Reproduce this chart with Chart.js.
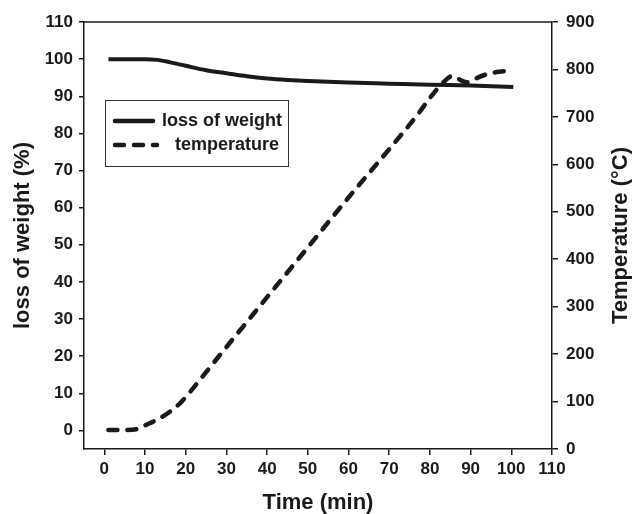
<!DOCTYPE html>
<html>
<head>
<meta charset="utf-8">
<script src="https://cdn.jsdelivr.net/npm/chart.js@4.4.1/dist/chart.umd.min.js"></script>
<style>
  html, body { margin: 0; padding: 0; background: #fff; }
  #wrap { width: 636px; height: 514px; position: relative; }
</style>
</head>
<body>
<div id="wrap"><canvas id="tgaChart"></canvas></div>
<script>
// weight curve (left axis, %)
const timeWeight = [1, 5, 10, 13, 16, 20, 25, 30, 35, 40, 45, 50, 60, 70, 80, 90, 100.5]
const lossOfWeight = [100, 100, 100, 99.8, 99.2, 98.2, 97.0, 96.2, 95.4, 94.8, 94.4, 94.1, 93.7, 93.4, 93.1, 92.9, 92.5]

// temperature curve (right axis, °C)
const timeTemp = [1, 5, 8, 10, 13, 16, 19, 22, 25, 30, 40, 50, 60, 70, 77, 80, 83, 85.5, 87, 89, 91, 94, 97, 100.5]
const temperature = [40, 40, 42, 50, 62, 78, 100, 130, 162, 215, 320, 425, 530, 632, 705, 740, 770, 786, 780, 773, 780, 790, 795, 798]

// tick labels
const timeTicks = [0, 10, 20, 30, 40, 50, 60, 70, 80, 90, 100, 110]
const weightTicks = [0, 10, 20, 30, 40, 50, 60, 70, 80, 90, 100, 110]
const tempTicks = [0, 100, 200, 300, 400, 500, 600, 700, 800, 900]

const seriesNames = ['loss of weight', 'temperature']
const axisTitles = { x: 'Time (min)', y: 'loss of weight (%)', y2: 'Temperature (°C)' }

const ink = '#1a1a1a'
const tickFont = { family: 'Liberation Sans, Arial, sans-serif', size: 17, weight: 'bold' }
const titleFont = { family: 'Liberation Sans, Arial, sans-serif', size: 22, weight: 'bold' }

const toPoints = (xs, ys) => xs.map((x, i) => ({ x: x, y: ys[i] }))
const useTicks = (values) => (s) => { s.ticks = values.map((v) => ({ value: v })) }

// top frame line, legend box and right title
const framePlugin = {
  id: 'frame',
  afterDraw(chart) {
    const { ctx, chartArea } = chart
    ctx.save()
    ctx.strokeStyle = ink
    ctx.lineWidth = 1.5
    ctx.beginPath()
    ctx.moveTo(chartArea.left, chartArea.top)
    ctx.lineTo(chartArea.right, chartArea.top)
    ctx.stroke()

    // legend
    ctx.lineWidth = 1
    ctx.strokeStyle = '#333'
    ctx.strokeRect(105.5, 100.5, 183, 66)
    const rows = [
      { y: 121, x2: 153, tx: 162, dash: [] },
      { y: 145, x2: 157, tx: 175, dash: [9, 10] },
    ]
    chart.data.datasets.forEach((ds, i) => {
      const r = rows[i]
      ctx.strokeStyle = ink
      ctx.lineWidth = 4.5
      ctx.lineCap = 'round'
      ctx.setLineDash(r.dash)
      ctx.beginPath()
      ctx.moveTo(115, r.y)
      ctx.lineTo(r.x2, r.y)
      ctx.stroke()
      ctx.setLineDash([])
      ctx.fillStyle = ink
      ctx.font = 'bold 18px "Liberation Sans", Arial, sans-serif'
      ctx.textBaseline = 'middle'
      ctx.textAlign = 'left'
      ctx.fillText(ds.label, r.tx, r.y)
    })

    // right axis title reads bottom-to-top like the left one
    const y2 = chart.scales.y2
    ctx.save()
    ctx.translate(621, (y2.top + y2.bottom) / 2)
    ctx.rotate(-Math.PI / 2)
    ctx.font = 'bold 22px "Liberation Sans", Arial, sans-serif'
    ctx.textAlign = 'center'
    ctx.textBaseline = 'middle'
    ctx.fillText(axisTitles.y2, 0, 0)
    ctx.restore()
    ctx.restore()
  },
}

new Chart(document.getElementById('tgaChart'), {
  type: 'line',
  data: {
    datasets: [
      {
        label: seriesNames[0],
        data: toPoints(timeWeight, lossOfWeight),
        yAxisID: 'y',
        borderColor: ink,
        borderWidth: 4,
        pointRadius: 0,
        cubicInterpolationMode: 'monotone',
        fill: false,
      },
      {
        label: seriesNames[1],
        data: toPoints(timeTemp, temperature),
        yAxisID: 'y2',
        borderColor: ink,
        borderWidth: 4.5,
        borderDash: [9, 10],
        borderCapStyle: 'round',
        pointRadius: 0,
        cubicInterpolationMode: 'monotone',
        fill: false,
      },
    ],
  },
  options: {
    responsive: true,
    maintainAspectRatio: false,
    animation: false,
    layout: { padding: { top: 22, left: 0, right: 0, bottom: 0 } },
    plugins: {
      legend: { display: false },
      tooltip: { enabled: false },
    },
    scales: {
      x: {
        type: 'linear',
        min: -5,
        max: 110,
        afterBuildTicks: useTicks(timeTicks),
        afterFit: (s) => { s.height = 65 },
        ticks: { font: tickFont, color: ink, padding: 4, maxRotation: 0, autoSkip: false },
        grid: { drawOnChartArea: false, drawTicks: true, tickLength: 6, color: ink, lineWidth: 1.5 },
        border: { color: ink, width: 1.5 },
        title: { display: true, text: axisTitles.x, font: titleFont, color: ink, padding: { top: 0, bottom: -2 } },
      },
      y: {
        type: 'linear',
        position: 'left',
        min: -5,
        max: 110,
        afterBuildTicks: useTicks(weightTicks),
        afterFit: (s) => { s.width = 84 },
        ticks: { font: tickFont, color: ink, padding: 6, autoSkip: false },
        grid: { drawOnChartArea: false, drawTicks: true, tickLength: 5, color: ink, lineWidth: 1.5 },
        border: { color: ink, width: 1.5 },
        title: { display: true, text: axisTitles.y, font: titleFont, color: ink, padding: { top: 10, bottom: 0 } },
      },
      y2: {
        type: 'linear',
        position: 'right',
        min: 0,
        max: 900,
        afterBuildTicks: useTicks(tempTicks),
        afterFit: (s) => { s.width = 84 },
        ticks: { font: tickFont, color: ink, padding: 8, autoSkip: false },
        grid: { drawOnChartArea: false, drawTicks: true, tickLength: 6, color: ink, lineWidth: 1.5 },
        border: { color: ink, width: 1.5 },
      },
    },
  },
  plugins: [framePlugin],
})
</script>
</body>
</html>
